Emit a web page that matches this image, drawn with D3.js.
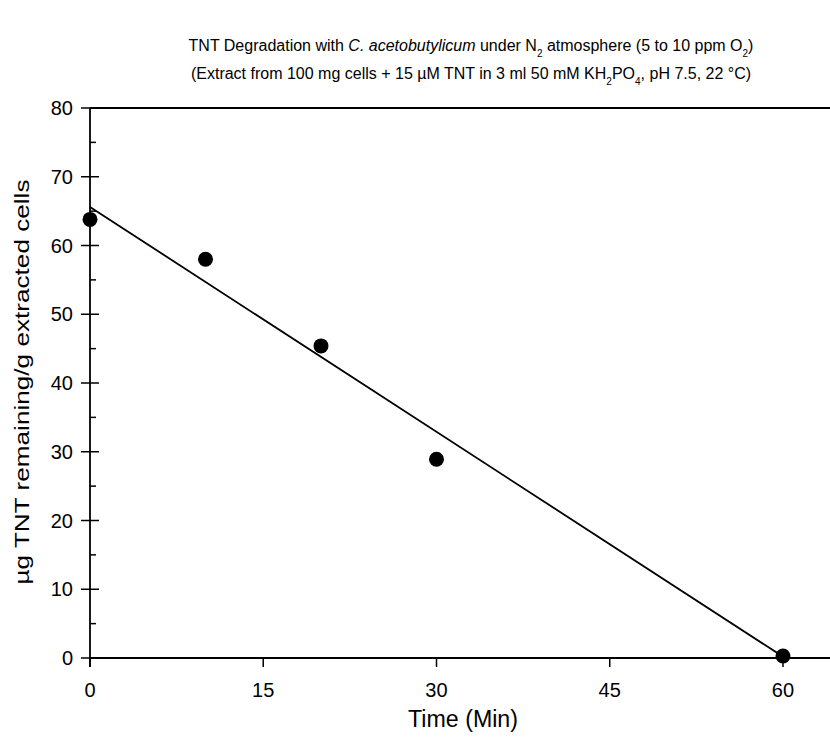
<!doctype html>
<html lang="en">
<head>
	<meta charset="UTF-8">
	<title>TNT degradation</title>
	<script src="https://d3js.org/d3.v7.min.js"></script>
	<style>
		body { margin: 0; background: #fff; }
		text { font-family: "Liberation Sans", Arial, Helvetica, sans-serif; fill: #000; }
	</style>
</head>
<body>
	<div id="chart"></div>
	<script>
		// data
		var times = [0, 10, 20, 30, 60]
		var tntRemaining = [63.8, 58.0, 45.4, 28.9, 0.3]
		// fitted line end points
		var fitTimes = [0, 60]
		var fitValues = [65.6, 0.2]
		var xTicks = [0, 15, 30, 45, 60]
		var yTicks = [0, 10, 20, 30, 40, 50, 60, 70, 80]
		var yMinor = [5, 15, 25, 35, 45, 55, 65, 75]

		var w = 830, h = 738
		// note: 'top' is taken by window.top, so use plot_* names
		var plot_left = 90, plot_top = 108, plot_bottom = 658, plot_right = 830

		var svg = d3.select('#chart').append('svg')
			.attr('width', w)
			.attr('height', h)

		var x = d3.scaleLinear().domain([0, 64.07]).range([plot_left, plot_right])
		var y = d3.scaleLinear().domain([0, 80]).range([plot_bottom, plot_top])

		/* ---------------------------------- title --------------------------------- */
		var title = svg.append('text')
			.attr('x', 471)
			.attr('y', 51)
			.attr('text-anchor', 'middle')
			.style('font-size', '16px')
		title.append('tspan').text('TNT Degradation with ')
		title.append('tspan').style('font-style', 'italic').text('C. acetobutylicum')
		title.append('tspan').text(' under N')
		title.append('tspan').attr('baseline-shift', 'sub').style('font-size', '10px').text('2')
		title.append('tspan').text(' atmosphere (5 to 10 ppm O')
		title.append('tspan').attr('baseline-shift', 'sub').style('font-size', '10px').text('2')
		title.append('tspan').text(')')

		var sub = svg.append('text')
			.attr('x', 471)
			.attr('y', 79)
			.attr('text-anchor', 'middle')
			.style('font-size', '16px')
		sub.append('tspan').text('(Extract from 100 mg cells + 15 \u00b5M TNT in 3 ml 50 mM KH')
		sub.append('tspan').attr('baseline-shift', 'sub').style('font-size', '10px').text('2')
		sub.append('tspan').text('PO')
		sub.append('tspan').attr('baseline-shift', 'sub').style('font-size', '10px').text('4')
		sub.append('tspan').text(', pH 7.5, 22 \u00b0C)')

		/* ---------------------------------- axes ---------------------------------- */
		// top frame line
		svg.append('line')
			.attr('x1', plot_left).attr('x2', plot_right)
			.attr('y1', y(80)).attr('y2', y(80))
			.style('stroke', '#000').style('stroke-width', 1.8)

		// y axis: major ticks cross the axis, minor ticks inside
		var yAxis = svg.append('g')
		yAxis.append('line')
			.attr('x1', plot_left).attr('x2', plot_left)
			.attr('y1', y(80)).attr('y2', plot_bottom + 9)
			.style('stroke', '#000').style('stroke-width', 1.8)
		yAxis.selectAll('.maj').data(yTicks).enter().append('line')
			.attr('x1', plot_left - 9).attr('x2', plot_left + 9)
			.attr('y1', d => y(d)).attr('y2', d => y(d))
			.style('stroke', '#000').style('stroke-width', 1.5)
		yAxis.selectAll('.min').data(yMinor).enter().append('line')
			.attr('x1', plot_left).attr('x2', plot_left + 6)
			.attr('y1', d => y(d)).attr('y2', d => y(d))
			.style('stroke', '#000').style('stroke-width', 1.5)
		yAxis.selectAll('text').data(yTicks).enter().append('text')
			.attr('x', plot_left - 17)
			.attr('y', d => y(d) + 7)
			.attr('text-anchor', 'end')
			.style('font-size', '20px')
			.text(d => d)

		// x axis
		var xAxis = svg.append('g')
		xAxis.append('line')
			.attr('x1', plot_left).attr('x2', plot_right)
			.attr('y1', plot_bottom).attr('y2', plot_bottom)
			.style('stroke', '#000').style('stroke-width', 1.8)
		xAxis.selectAll('.tick').data(xTicks).enter().append('line')
			.attr('x1', d => x(d)).attr('x2', d => x(d))
			.attr('y1', plot_bottom).attr('y2', plot_bottom + 9)
			.style('stroke', '#000').style('stroke-width', 1.5)
		xAxis.selectAll('text').data(xTicks).enter().append('text')
			.attr('x', d => x(d))
			.attr('y', plot_bottom + 39)
			.attr('text-anchor', 'middle')
			.style('font-size', '20px')
			.text(d => d)

		// axis titles
		svg.append('text')
			.attr('x', 463)
			.attr('y', 727)
			.attr('text-anchor', 'middle')
			.attr('textLength', 110)
			.attr('lengthAdjust', 'spacingAndGlyphs')
			.style('font-size', '23px')
			.text('Time (Min)')

		svg.append('text')
			.attr('transform', 'translate(29,382) rotate(-90)')
			.attr('text-anchor', 'middle')
			.attr('textLength', 405)
			.attr('lengthAdjust', 'spacingAndGlyphs')
			.style('font-size', '21px')
			.text('\u00b5g TNT remaining/g extracted cells')

		/* ---------------------------------- marks --------------------------------- */
		var fit = fitTimes.map((t, i) => [t, fitValues[i]])
		svg.append('path')
			.datum(fit)
			.attr('d', d3.line().x(d => x(d[0])).y(d => y(d[1])))
			.style('fill', 'none')
			.style('stroke', '#000')
			.style('stroke-width', 1.8)

		svg.selectAll('.pt').data(times).enter().append('circle')
			.attr('cx', d => x(d))
			.attr('cy', (d, i) => y(tntRemaining[i]))
			.attr('r', 7.5)
			.attr('fill', '#000')
	</script>
</body>
</html>
